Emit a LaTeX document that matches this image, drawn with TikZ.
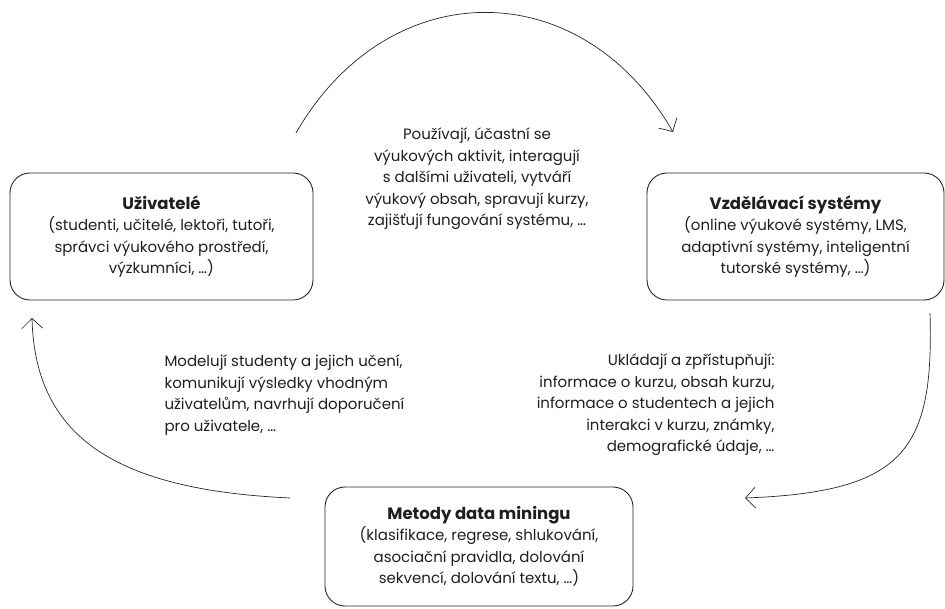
\documentclass[tikz,border=0pt]{standalone}
\usepackage{fontspec}
\setmainfont{Poppins}
\usetikzlibrary{arrows.meta}

\newcommand{\stagetitle}[1]{{\fontsize{16.5}{21.5}\selectfont\bfseries #1}}

\tikzset{
    stage/.style={draw=black!85, line width=0.9pt, rounded corners=20pt, align=center, inner sep=0pt},
    caption/.style={text=black!88, font=\fontsize{15}{21.5}\selectfont},
    cycle/.style={-{Straight Barb[length=10pt,width=21pt]}, line width=0.7pt, black!85},
}

\begin{document}
\begin{tikzpicture}[x=1pt, y=-1pt]
    \useasboundingbox (0,0) rectangle (945,609);

    % Stages of the cycle
    \node[stage, caption, minimum width=303pt, minimum height=127pt] (users) at (161.5,236.5)
        {\stagetitle{Uživatelé}\\(studenti, učitelé, lektoři, tutoři,\\správci výukového prostředí,\\výzkumníci, …)};
    \node[stage, caption, minimum width=297pt, minimum height=127pt] (systems) at (795.5,236.5)
        {\stagetitle{Vzdělávací systémy}\\(online výukové systémy, LMS,\\adaptivní systémy, inteligentní\\tutorské systémy, …)};
    \node[stage, caption, minimum width=308pt, minimum height=119pt] (mining) at (479,546.5)
        {\stagetitle{Metody data miningu}\\(klasifikace, regrese, shlukování,\\asociační pravidla, dolování\\sekvencí, dolování textu, …)};

    % Texts along the arrows
    \node[caption, align=center] (uselabel) at (477,179)
        {Používají, účastní se\\výukových aktivit, interagují\\s dalšími uživateli, vytváří\\výukový obsah, spravují kurzy,\\zajišťují fungování systému, …};
    \node[caption, align=right, anchor=east] (storelabel) at (778,405)
        {Ukládají a zpřístupňují:\\informace o kurzu, obsah kurzu,\\informace o studentech a jejich\\interakci v kurzu, známky,\\demografické údaje, …};
    \node[caption, align=left, anchor=west] (modellabel) at (161,395)
        {Modelují studenty a jejich učení,\\komunikují výsledky vhodným\\uživatelům, navrhují doporučení\\pro uživatele, …};

    % Arrows
    \coordinate (top start) at (296,133);
    \coordinate (top end) at (673,132);
    \coordinate (right start) at (930,313);
    \coordinate (right end) at (745,498);
    \coordinate (left start) at (290,498);
    \coordinate (left end) at (32,318);
    \draw[cycle] (top start) .. controls (388,-27) and (581,-28) .. (top end);
    \draw[cycle] (right start) .. controls (934,450) and (905,492) .. (right end);
    \draw[cycle] (left start) .. controls (120,490) and (35,440) .. (left end);
\end{tikzpicture}
\end{document}
